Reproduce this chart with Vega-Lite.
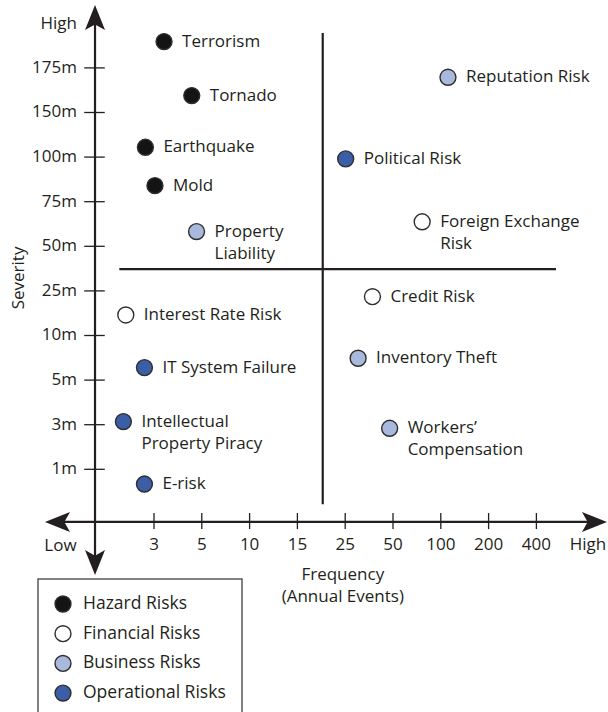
{
  "$schema": "https://vega.github.io/schema/vega-lite/v6.json",
  "width": 608,
  "height": 712,
  "autosize": {"type": "none"},
  "padding": 0,
  "background": "white",
  "config": {
    "view": {"stroke": null},
    "font": "Open Sans",
    "text": {"font": "Open Sans", "fontSize": 17, "fill": "#231f20"},
    "legend": {"strokeWidth": 1.5}
  },
  "datasets": {
    "risks": [
      {"name1": "Terrorism", "name2": "", "type": "Hazard Risks", "x": 1.21, "y": 10.59},
      {"name1": "Tornado", "name2": "", "type": "Hazard Risks", "x": 1.79, "y": 9.38},
      {"name1": "Earthquake", "name2": "", "type": "Hazard Risks", "x": 0.82, "y": 8.22},
      {"name1": "Mold", "name2": "", "type": "Hazard Risks", "x": 1.02, "y": 7.36},
      {"name1": "Property", "name2": "Liability", "type": "Business Risks", "x": 1.89, "y": 6.33},
      {"name1": "Reputation Risk", "name2": "", "type": "Business Risks", "x": 7.15, "y": 9.79},
      {"name1": "Political Risk", "name2": "", "type": "Operational Risks", "x": 5.01, "y": 7.96},
      {"name1": "Foreign Exchange", "name2": "Risk", "type": "Financial Risks", "x": 6.61, "y": 6.55},
      {"name1": "Interest Rate Risk", "name2": "", "type": "Financial Risks", "x": 0.41, "y": 4.46},
      {"name1": "IT System Failure", "name2": "", "type": "Operational Risks", "x": 0.8, "y": 3.28},
      {"name1": "Intellectual", "name2": "Property Piracy", "type": "Operational Risks", "x": 0.36, "y": 2.07},
      {"name1": "E-risk", "name2": "", "type": "Operational Risks", "x": 0.8, "y": 0.67},
      {"name1": "Credit Risk", "name2": "", "type": "Financial Risks", "x": 5.57, "y": 4.87},
      {"name1": "Inventory Theft", "name2": "", "type": "Business Risks", "x": 5.27, "y": 3.49},
      {"name1": "Workers’", "name2": "Compensation", "type": "Business Risks", "x": 5.93, "y": 1.92}
    ],
    "yticks": [
      {"label": "1m", "y": 1}, {"label": "3m", "y": 2}, {"label": "5m", "y": 3},
      {"label": "10m", "y": 4}, {"label": "25m", "y": 5}, {"label": "50m", "y": 6},
      {"label": "75m", "y": 7}, {"label": "100m", "y": 8}, {"label": "150m", "y": 9},
      {"label": "175m", "y": 10}
    ],
    "xticks": [
      {"label": "3", "x": 1}, {"label": "5", "x": 2}, {"label": "10", "x": 3},
      {"label": "15", "x": 4}, {"label": "25", "x": 5}, {"label": "50", "x": 6},
      {"label": "100", "x": 7}, {"label": "200", "x": 8}, {"label": "400", "x": 9}
    ],
    "one": [{"k": 1}]
  },
  "layer": [
    {
      "data": {"name": "one"},
      "mark": {"type": "rule", "strokeWidth": 2.2, "color": "#231f20"},
      "encoding": {
        "x": {"datum": 4.53, "type": "quantitative", "scale": {"domain": [-2.2218, 10.498], "nice": false, "zero": false}, "axis": null},
        "y": {"datum": 10.78, "type": "quantitative", "scale": {"domain": [-4.4417, 11.5224], "nice": false, "zero": false}, "axis": null},
        "y2": {"datum": 0.215}
      }
    },
    {
      "data": {"name": "one"},
      "mark": {"type": "rule", "strokeWidth": 2.2, "color": "#231f20"},
      "encoding": {
        "x": {"datum": 0.274, "type": "quantitative", "scale": {"domain": [-2.2218, 10.498], "nice": false, "zero": false}, "axis": null},
        "x2": {"datum": 9.41},
        "y": {"datum": 5.49, "type": "quantitative", "scale": {"domain": [-4.4417, 11.5224], "nice": false, "zero": false}, "axis": null}
      }
    },
    {
      "data": {"name": "one"},
      "mark": {"type": "rule", "strokeWidth": 2.2, "color": "#231f20"},
      "encoding": {
        "x": {"datum": -1.03, "type": "quantitative", "scale": {"domain": [-2.2218, 10.498], "nice": false, "zero": false}, "axis": null},
        "x2": {"datum": 10.22},
        "y": {"datum": -0.18, "type": "quantitative", "scale": {"domain": [-4.4417, 11.5224], "nice": false, "zero": false}, "axis": null}
      }
    },
    {
      "data": {"name": "one"},
      "mark": {"type": "rule", "strokeWidth": 2.2, "color": "#231f20"},
      "encoding": {
        "x": {"datum": -0.234, "type": "quantitative", "scale": {"domain": [-2.2218, 10.498], "nice": false, "zero": false}, "axis": null},
        "y": {"datum": 11.13, "type": "quantitative", "scale": {"domain": [-4.4417, 11.5224], "nice": false, "zero": false}, "axis": null},
        "y2": {"datum": -1.08}
      }
    },
    {
      "data": {"name": "yticks"},
      "mark": {"type": "rule", "strokeWidth": 1.3, "color": "#231f20"},
      "encoding": {
        "x": {"datum": -0.46, "type": "quantitative", "scale": {"domain": [-2.2218, 10.498], "nice": false, "zero": false}, "axis": null},
        "x2": {"datum": -0.03},
        "y": {"field": "y", "type": "quantitative", "scale": {"domain": [-4.4417, 11.5224], "nice": false, "zero": false}, "axis": null}
      }
    },
    {
      "data": {"name": "xticks"},
      "mark": {"type": "rule", "strokeWidth": 1.3, "color": "#231f20"},
      "encoding": {
        "x": {"field": "x", "type": "quantitative", "scale": {"domain": [-2.2218, 10.498], "nice": false, "zero": false}, "axis": null},
        "y": {"datum": 0.02, "type": "quantitative", "scale": {"domain": [-4.4417, 11.5224], "nice": false, "zero": false}, "axis": null},
        "y2": {"datum": -0.34}
      }
    },
    {
      "data": {"name": "one"},
      "mark": {"type": "point", "shape": "M0,-1L0.8,1L0,0.55L-0.8,1Z", "filled": true, "size": 625, "color": "#231f20", "opacity": 1, "angle": 0},
      "encoding": {
        "x": {"datum": -0.234, "type": "quantitative", "scale": {"domain": [-2.2218, 10.498], "nice": false, "zero": false}, "axis": null},
        "y": {"datum": 11.13, "type": "quantitative", "scale": {"domain": [-4.4417, 11.5224], "nice": false, "zero": false}, "axis": null}
      }
    },
    {
      "data": {"name": "one"},
      "mark": {"type": "point", "shape": "M0,-1L0.8,1L0,0.55L-0.8,1Z", "filled": true, "size": 625, "color": "#231f20", "opacity": 1, "angle": 180},
      "encoding": {
        "x": {"datum": -0.234, "type": "quantitative", "scale": {"domain": [-2.2218, 10.498], "nice": false, "zero": false}, "axis": null},
        "y": {"datum": -1.09, "type": "quantitative", "scale": {"domain": [-4.4417, 11.5224], "nice": false, "zero": false}, "axis": null}
      }
    },
    {
      "data": {"name": "one"},
      "mark": {"type": "point", "shape": "M0,-1L0.8,1L0,0.55L-0.8,1Z", "filled": true, "size": 625, "color": "#231f20", "opacity": 1, "angle": 270},
      "encoding": {
        "x": {"datum": -1.019, "type": "quantitative", "scale": {"domain": [-2.2218, 10.498], "nice": false, "zero": false}, "axis": null},
        "y": {"datum": -0.18, "type": "quantitative", "scale": {"domain": [-4.4417, 11.5224], "nice": false, "zero": false}, "axis": null}
      }
    },
    {
      "data": {"name": "one"},
      "mark": {"type": "point", "shape": "M0,-1L0.8,1L0,0.55L-0.8,1Z", "filled": true, "size": 625, "color": "#231f20", "opacity": 1, "angle": 90},
      "encoding": {
        "x": {"datum": 10.215, "type": "quantitative", "scale": {"domain": [-2.2218, 10.498], "nice": false, "zero": false}, "axis": null},
        "y": {"datum": -0.18, "type": "quantitative", "scale": {"domain": [-4.4417, 11.5224], "nice": false, "zero": false}, "axis": null}
      }
    },
    {
      "data": {"name": "yticks"},
      "mark": {"type": "text", "align": "right", "baseline": "middle"},
      "encoding": {
        "x": {"datum": -0.611, "type": "quantitative", "scale": {"domain": [-2.2218, 10.498], "nice": false, "zero": false}, "axis": null},
        "y": {"field": "y", "type": "quantitative", "scale": {"domain": [-4.4417, 11.5224], "nice": false, "zero": false}, "axis": null},
        "text": {"field": "label"}
      }
    },
    {
      "data": {"name": "xticks"},
      "mark": {"type": "text", "align": "center", "baseline": "middle"},
      "encoding": {
        "x": {"field": "x", "type": "quantitative", "scale": {"domain": [-2.2218, 10.498], "nice": false, "zero": false}, "axis": null},
        "y": {"datum": -0.70, "type": "quantitative", "scale": {"domain": [-4.4417, 11.5224], "nice": false, "zero": false}, "axis": null},
        "text": {"field": "label"}
      }
    },
    {
      "data": {"name": "one"},
      "mark": {"type": "text", "align": "right", "baseline": "middle", "text": "High"},
      "encoding": {
        "x": {"datum": -0.611, "type": "quantitative", "scale": {"domain": [-2.2218, 10.498], "nice": false, "zero": false}, "axis": null},
        "y": {"datum": 10.98, "type": "quantitative", "scale": {"domain": [-4.4417, 11.5224], "nice": false, "zero": false}, "axis": null}
      }
    },
    {
      "data": {"name": "one"},
      "mark": {"type": "text", "align": "center", "baseline": "middle", "text": "Low"},
      "encoding": {
        "x": {"datum": -0.956, "type": "quantitative", "scale": {"domain": [-2.2218, 10.498], "nice": false, "zero": false}, "axis": null},
        "y": {"datum": -0.72, "type": "quantitative", "scale": {"domain": [-4.4417, 11.5224], "nice": false, "zero": false}, "axis": null}
      }
    },
    {
      "data": {"name": "one"},
      "mark": {"type": "text", "align": "center", "baseline": "middle", "text": "High"},
      "encoding": {
        "x": {"datum": 10.08, "type": "quantitative", "scale": {"domain": [-2.2218, 10.498], "nice": false, "zero": false}, "axis": null},
        "y": {"datum": -0.70, "type": "quantitative", "scale": {"domain": [-4.4417, 11.5224], "nice": false, "zero": false}, "axis": null}
      }
    },
    {
      "data": {"name": "one"},
      "mark": {"type": "text", "align": "center", "baseline": "middle", "angle": 270, "text": "Severity"},
      "encoding": {
        "x": {"datum": -1.824, "type": "quantitative", "scale": {"domain": [-2.2218, 10.498], "nice": false, "zero": false}, "axis": null},
        "y": {"datum": 5.29, "type": "quantitative", "scale": {"domain": [-4.4417, 11.5224], "nice": false, "zero": false}, "axis": null}
      }
    },
    {
      "data": {"name": "one"},
      "mark": {"type": "text", "align": "center", "baseline": "middle", "text": "Frequency"},
      "encoding": {
        "x": {"datum": 4.95, "type": "quantitative", "scale": {"domain": [-2.2218, 10.498], "nice": false, "zero": false}, "axis": null},
        "y": {"datum": -1.37, "type": "quantitative", "scale": {"domain": [-4.4417, 11.5224], "nice": false, "zero": false}, "axis": null}
      }
    },
    {
      "data": {"name": "one"},
      "mark": {"type": "text", "align": "center", "baseline": "middle", "text": "(Annual Events)"},
      "encoding": {
        "x": {"datum": 4.95, "type": "quantitative", "scale": {"domain": [-2.2218, 10.498], "nice": false, "zero": false}, "axis": null},
        "y": {"datum": -1.863, "type": "quantitative", "scale": {"domain": [-4.4417, 11.5224], "nice": false, "zero": false}, "axis": null}
      }
    },
    {
      "data": {"name": "risks"},
      "mark": {"type": "point", "filled": true, "size": 254, "stroke": "#2e2e2e", "strokeWidth": 1.4, "opacity": 1},
      "encoding": {
        "x": {"field": "x", "type": "quantitative", "scale": {"domain": [-2.2218, 10.498], "nice": false, "zero": false}, "axis": null},
        "y": {"field": "y", "type": "quantitative", "scale": {"domain": [-4.4417, 11.5224], "nice": false, "zero": false}, "axis": null},
        "fill": {
          "field": "type",
          "type": "nominal",
          "scale": {
            "domain": ["Hazard Risks", "Financial Risks", "Business Risks", "Operational Risks"],
            "range": ["#141414", "#ffffff", "#a9b9dd", "#3c5ea6"]
          },
          "legend": {
            "title": null,
            "orient": "none",
            "legendX": 38,
            "legendY": 579,
            "padding": 16,
            "strokeColor": "#5a5a5a",
            "cornerRadius": 0,
            "symbolType": "circle",
            "symbolSize": 254,
            "symbolStrokeColor": "#2e2e2e",
            "symbolStrokeWidth": 1.4,
            "symbolOpacity": 1,
            "labelFont": "Open Sans",
            "labelFontSize": 17.5,
            "labelColor": "#231f20",
            "labelOffset": 11,
            "labelLimit": 300,
            "rowPadding": 7.7
          }
        }
      }
    },
    {
      "data": {"name": "risks"},
      "mark": {"type": "text", "align": "left", "baseline": "middle", "dx": 18},
      "encoding": {
        "x": {"field": "x", "type": "quantitative", "scale": {"domain": [-2.2218, 10.498], "nice": false, "zero": false}, "axis": null},
        "y": {"field": "y", "type": "quantitative", "scale": {"domain": [-4.4417, 11.5224], "nice": false, "zero": false}, "axis": null},
        "text": {"field": "name1"}
      }
    },
    {
      "data": {"name": "risks"},
      "transform": [{"filter": "datum.name2 != ''"}],
      "mark": {"type": "text", "align": "left", "baseline": "middle", "dx": 18, "dy": 22},
      "encoding": {
        "x": {"field": "x", "type": "quantitative", "scale": {"domain": [-2.2218, 10.498], "nice": false, "zero": false}, "axis": null},
        "y": {"field": "y", "type": "quantitative", "scale": {"domain": [-4.4417, 11.5224], "nice": false, "zero": false}, "axis": null},
        "text": {"field": "name2"}
      }
    }
  ]
}
